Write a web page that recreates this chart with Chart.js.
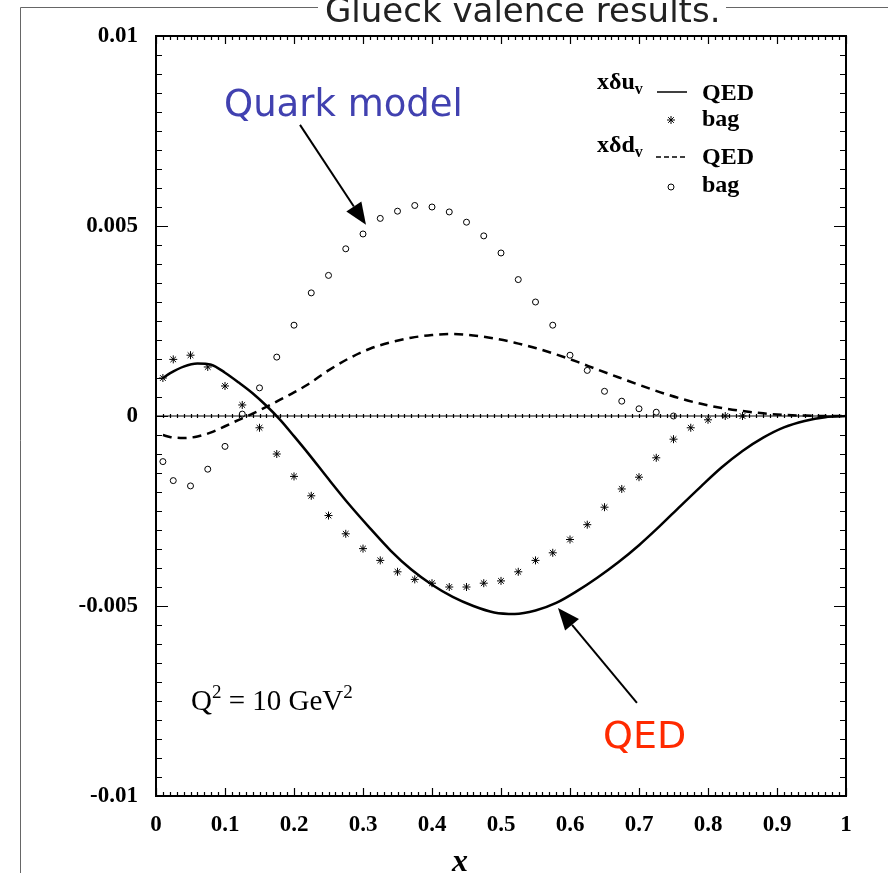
<!DOCTYPE html>
<html>
<head>
<meta charset="utf-8">
<script src="https://cdn.jsdelivr.net/npm/chart.js@4.4.0/dist/chart.umd.min.js"></script>
<style>
  body { margin: 0; background: #fff; }
  canvas { display: block; }
</style>
</head>
<body>
<canvas id="myChart" width="888" height="873"></canvas>
<script>
'use strict';

// QED curves
const curveX = [0.01, 0.02, 0.04, 0.06, 0.08, 0.10, 0.12, 0.14, 0.16, 0.18, 0.20, 0.22, 0.25, 0.28,
    0.31, 0.34, 0.37, 0.40, 0.43, 0.46, 0.49, 0.52, 0.55, 0.58, 0.61, 0.64, 0.67, 0.70, 0.73,
    0.76, 0.79, 0.82, 0.85, 0.88, 0.91, 0.94, 0.97, 1.00];
const uQED = [0.00100, 0.00112, 0.00130, 0.00138, 0.00135, 0.00114, 0.00088, 0.00060, 0.00027, -0.00010,
    -0.00053, -0.00097, -0.00166, -0.00233, -0.00295, -0.00354, -0.00404, -0.00444, -0.00476, -0.00500,
    -0.00517, -0.00521, -0.00512, -0.00492, -0.00461, -0.00425, -0.00385, -0.00340, -0.00290, -0.00237,
    -0.00185, -0.00135, -0.00092, -0.00057, -0.00030, -0.00013, -0.00003, 0];
const dQED = [-0.00050, -0.00055, -0.00058, -0.00054, -0.00043, -0.00027, -0.00010, 0.00006, 0.00024, 0.00043,
    0.00062, 0.00083, 0.00120, 0.00152, 0.00177, 0.00194, 0.00206, 0.00213, 0.00216, 0.00212,
    0.00204, 0.00193, 0.00179, 0.00162, 0.00143, 0.00122, 0.00102, 0.00082, 0.00063, 0.00046,
    0.00032, 0.00021, 0.00013, 0.00007, 0.00003, 0.00001, 0, 0];

// bag model points
const bagXu = [0.01, 0.025, 0.05, 0.075, 0.1, 0.125, 0.15, 0.175, 0.2, 0.225, 0.25, 0.275, 0.3, 0.325,
    0.35, 0.375, 0.4, 0.425, 0.45, 0.475, 0.5, 0.525, 0.55, 0.575, 0.6, 0.625, 0.65, 0.675, 0.7,
    0.725, 0.75, 0.775, 0.8, 0.825, 0.85];
const uBag = [0.00100, 0.00149, 0.00160, 0.00129, 0.00079, 0.00029, -0.00031, -0.00100, -0.00159, -0.00210,
    -0.00262, -0.00310, -0.00349, -0.00380, -0.00410, -0.00430, -0.00440, -0.00450, -0.00450, -0.00440,
    -0.00434, -0.00410, -0.00380, -0.00360, -0.00325, -0.00286, -0.00240, -0.00192, -0.00161, -0.00110,
    -0.00061, -0.00031, -0.00010, 0, 0];
const bagXd = [0.01, 0.025, 0.05, 0.075, 0.1, 0.125, 0.15, 0.175, 0.2, 0.225, 0.25, 0.275, 0.3, 0.325,
    0.35, 0.375, 0.4, 0.425, 0.45, 0.475, 0.5, 0.525, 0.55, 0.575, 0.6, 0.625, 0.65, 0.675, 0.7,
    0.725, 0.75];
const dBag = [-0.00120, -0.00170, -0.00184, -0.00140, -0.00080, 0.00005, 0.00074, 0.00155, 0.00239, 0.00324,
    0.00370, 0.00440, 0.00479, 0.00520, 0.00539, 0.00554, 0.00550, 0.00537, 0.00510, 0.00474,
    0.00429, 0.00359, 0.00300, 0.00239, 0.00160, 0.00120, 0.00065, 0.00039, 0.00019, 0.00010, 0.00000];

const xTickLabels = ['0', '0.1', '0.2', '0.3', '0.4', '0.5', '0.6', '0.7', '0.8', '0.9', '1'];
const yTickLabels = ['-0.01', '-0.005', '0', '0.005', '0.01'];

const toPoints = (xs, ys) => ys.map((y, i) => ({ x: xs[i], y: y }));
const serif = 'Liberation Serif';

function arrow(ctx, x1, y1, x2, y2) {
    const a = Math.atan2(y2 - y1, x2 - x1);
    const len = 22, hw = 9;
    const bx = x2 - len * Math.cos(a), by = y2 - len * Math.sin(a);
    ctx.beginPath();
    ctx.moveTo(x1, y1);
    ctx.lineTo(bx, by);
    ctx.lineWidth = 2;
    ctx.strokeStyle = '#000';
    ctx.stroke();
    ctx.beginPath();
    ctx.moveTo(x2, y2);
    ctx.lineTo(bx + hw * Math.sin(a), by - hw * Math.cos(a));
    ctx.lineTo(bx - hw * Math.sin(a), by + hw * Math.cos(a));
    ctx.closePath();
    ctx.fillStyle = '#000';
    ctx.fill();
}

const decor = {
    id: 'decor',
    afterDraw(chart) {
        const ctx = chart.ctx;
        const xs = chart.scales.x, ys = chart.scales.y;
        const a = chart.chartArea;
        const px = v => xs.getPixelForValue(v);
        const py = v => ys.getPixelForValue(v);
        ctx.save();

        // page frame + slide title (cut off)
        ctx.strokeStyle = '#666';
        ctx.lineWidth = 1;
        ctx.beginPath();
        ctx.moveTo(20.5, 873); ctx.lineTo(20.5, 7.5); ctx.lineTo(318, 7.5);
        ctx.moveTo(726, 7.5); ctx.lineTo(888, 7.5);
        ctx.stroke();
        ctx.fillStyle = '#222';
        ctx.font = '34px "DejaVu Sans"';
        ctx.textBaseline = 'alphabetic';
        ctx.fillText('Glueck valence results.', 325, 22);

        // plot box
        ctx.strokeStyle = '#000';
        ctx.lineWidth = 2;
        ctx.strokeRect(a.left, a.top, a.right - a.left, a.bottom - a.top);

        // inner ticks
        ctx.lineWidth = 1.2;
        ctx.beginPath();
        for (let i = 0; i <= 100; i++) {
            const x = Math.round(px(i / 100)) + 0.5;
            const l = i % 10 === 0 ? 8 : 4;
            ctx.moveTo(x, a.bottom); ctx.lineTo(x, a.bottom - l);
            ctx.moveTo(x, a.top); ctx.lineTo(x, a.top + l);
            if (i > 0 && i < 100) {
                ctx.moveTo(x, py(0) - 2); ctx.lineTo(x, py(0) + 2);
            }
        }
        for (let i = 0; i <= 40; i++) {
            const y = Math.round(py(-0.01 + i * 0.0005)) + 0.5;
            const l = i % 10 === 0 ? 12 : 6;
            ctx.moveTo(a.left, y); ctx.lineTo(a.left + l, y);
            ctx.moveTo(a.right, y); ctx.lineTo(a.right - l, y);
        }
        ctx.stroke();

        // axis title
        ctx.fillStyle = '#000';
        ctx.font = 'italic bold 32px "' + serif + '"';
        ctx.textAlign = 'center';
        ctx.fillText('x', 460, 871);
        ctx.textAlign = 'left';

        // annotations
        ctx.font = '37px "DejaVu Sans"';
        ctx.fillStyle = '#4141b0';
        ctx.fillText('Quark model', px(0.0986), py(0.00789));
        ctx.font = '38px "DejaVu Sans"';
        ctx.fillStyle = '#ff2a00';
        ctx.fillText('QED', px(0.6478), py(-0.00874));
        arrow(ctx, px(0.2087), py(0.00766), px(0.3043), py(0.00503));
        arrow(ctx, px(0.697), py(-0.00755), px(0.5826), py(-0.00505));

        // Q^2 label
        ctx.fillStyle = '#000';
        let qx = px(0.0507);
        const qy = py(-0.00774);
        const big = '29px "' + serif + '"', small = '19px "' + serif + '"';
        const put = (t, f, dy) => { ctx.font = f; ctx.fillText(t, qx, qy + dy); qx += ctx.measureText(t).width; };
        put('Q', big, 0); put('2', small, -12); put(' = 10 GeV', big, 0); put('2', small, -12);

        // legend
        const lf = 'bold 24px "' + serif + '"', sf = 'bold 16px "' + serif + '"';
        const label = (t, sub, x, y) => {
            ctx.font = lf; ctx.fillText(t, x, y);
            const w = ctx.measureText(t).width;
            ctx.font = sf; ctx.fillText(sub, x + w, y + 5);
        };
        label('x\u03b4u', 'v', 597, 89);
        label('x\u03b4d', 'v', 597, 152);
        ctx.font = lf;
        ctx.fillText('QED', 702, 100);
        ctx.fillText('bag', 702, 126);
        ctx.fillText('QED', 702, 164);
        ctx.fillText('bag', 702, 192);
        ctx.lineWidth = 1.5;
        ctx.beginPath();
        ctx.moveTo(657, 92); ctx.lineTo(687, 92);
        ctx.stroke();
        ctx.setLineDash([5, 3]);
        ctx.beginPath();
        ctx.moveTo(656, 157); ctx.lineTo(688, 157);
        ctx.stroke();
        ctx.setLineDash([]);
        ctx.lineWidth = 1;
        Chart.helpers.drawPoint(ctx, { pointStyle: 'star', radius: 4, borderWidth: 1 }, 671, 120);
        ctx.fillStyle = '#fff';
        Chart.helpers.drawPoint(ctx, { pointStyle: 'circle', radius: 3, borderWidth: 1 }, 671, 187);
        ctx.restore();
    }
};

const ctx = document.getElementById('myChart').getContext('2d');
const myChart = new Chart(ctx, {
    type: 'scatter',
    data: {
        datasets: [
            {
                label: 'zero',
                data: [{ x: 0, y: 0 }, { x: 1, y: 0 }],
                showLine: true,
                borderColor: '#000',
                borderWidth: 1.2,
                pointRadius: 0
            },
            {
                label: 'xδu_v QED',
                data: toPoints(curveX, uQED),
                showLine: true,
                borderColor: '#000',
                borderWidth: 2.5,
                pointRadius: 0,
                cubicInterpolationMode: 'monotone'
            },
            {
                label: 'xδd_v QED',
                data: toPoints(curveX, dQED),
                showLine: true,
                borderColor: '#000',
                borderWidth: 2.5,
                borderDash: [9, 6],
                pointRadius: 0,
                cubicInterpolationMode: 'monotone'
            },
            {
                label: 'xδu_v bag',
                data: toPoints(bagXu, uBag),
                pointStyle: 'star',
                pointRadius: 4,
                borderColor: '#000',
                borderWidth: 1
            },
            {
                label: 'xδd_v bag',
                data: toPoints(bagXd, dBag),
                pointStyle: 'circle',
                pointRadius: 3,
                borderColor: '#000',
                backgroundColor: '#fff',
                borderWidth: 1
            }
        ]
    },
    options: {
        responsive: false,
        animation: false,
        layout: { padding: { top: 36, right: 42, left: 0, bottom: 0 } },
        plugins: {
            legend: { display: false },
            tooltip: { enabled: false }
        },
        scales: {
            x: {
                type: 'linear',
                min: 0,
                max: 1,
                afterFit: s => { s.height = 77; },
                ticks: {
                    stepSize: 0.1,
                    padding: 15,
                    color: '#000',
                    font: { family: serif, weight: 'bold', size: 23 },
                    callback: (v, i) => xTickLabels[i]
                },
                grid: { display: false, drawTicks: false },
                border: { display: false }
            },
            y: {
                type: 'linear',
                min: -0.01,
                max: 0.01,
                afterFit: s => { s.width = 156; },
                ticks: {
                    stepSize: 0.005,
                    padding: 18,
                    color: '#000',
                    font: { family: serif, weight: 'bold', size: 23 },
                    callback: (v, i) => yTickLabels[i]
                },
                grid: { display: false, drawTicks: false },
                border: { display: false }
            }
        }
    },
    plugins: [decor]
});
</script>
</body>
</html>
